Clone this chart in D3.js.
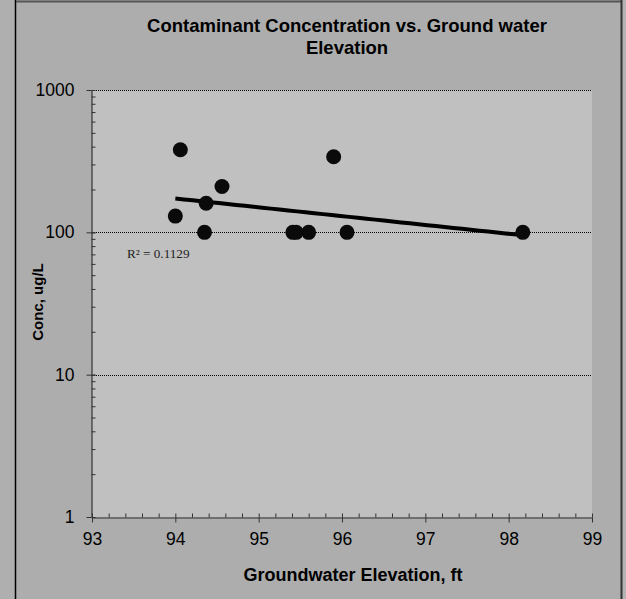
<!DOCTYPE html>
<html>
<head>
<meta charset="utf-8">
<script src="https://cdn.jsdelivr.net/npm/d3@7"></script>
<style>
  html, body { margin: 0; padding: 0; background: #adadad; }
  svg { display: block; }
  .tick text { font-family: "Liberation Sans", Arial, sans-serif; }
</style>
</head>
<body>
<svg id="chart" width="626" height="599"></svg>
<script>
// Groundwater elevation (ft) and measured concentration (ug/L) per sample
const elevation = [94.00, 94.06, 94.35, 94.37, 94.56, 95.41, 95.45, 95.60, 95.90, 96.06, 98.17];
const conc      = [130,   380,   100,   160,   210,   100,   100,   100,   340,   100,   100];

const xMajorTicks = [93, 94, 95, 96, 97, 98, 99];
const yMajorTicks = [1, 10, 100, 1000];
const rSquaredLabel = "R\u00B2 = 0.1129";
const titleLines = ["Contaminant Concentration vs. Ground water", "Elevation"];
const xTitle = "Groundwater Elevation, ft";
const yTitle = "Conc, ug/L";

const W = 626, H = 599;
const plot = { left: 92, right: 592, top: 90, bottom: 517 };

const svg = d3.select("#chart");

// frame
svg.append("rect").attr("x", 0).attr("y", 0).attr("width", W).attr("height", H).attr("fill", "#adadad");
svg.append("rect").attr("x", 0).attr("y", 0).attr("width", 15).attr("height", H).attr("fill", "#afafaf");
svg.append("rect").attr("x", 622).attr("y", 0).attr("width", 4).attr("height", H).attr("fill", "#b3b3b3");
svg.append("line").attr("x1", 15.5).attr("x2", 15.5).attr("y1", 0).attr("y2", H)
  .attr("stroke", "#000").attr("stroke-width", 1.5);
svg.append("line").attr("x1", 16).attr("x2", 622).attr("y1", 1.5).attr("y2", 1.5)
  .attr("stroke", "#555").attr("stroke-width", 2);
svg.append("line").attr("x1", 621.5).attr("x2", 621.5).attr("y1", 0).attr("y2", H)
  .attr("stroke", "#333").attr("stroke-width", 2);

const x = d3.scaleLinear().domain([93, 99]).range([plot.left, plot.right]);
const y = d3.scaleLog().domain([1, 1000]).range([plot.bottom, plot.top]);

// plot area
svg.append("rect")
  .attr("x", plot.left).attr("y", plot.top)
  .attr("width", plot.right - plot.left).attr("height", plot.bottom - plot.top)
  .attr("fill", "#c0c0c0");

// dotted major gridlines
svg.append("g").selectAll("line")
  .data(yMajorTicks.filter(d => d > 1))
  .join("line")
  .attr("x1", plot.left).attr("x2", plot.right)
  .attr("y1", d => Math.round(y(d)) + 0.5).attr("y2", d => Math.round(y(d)) + 0.5)
  .attr("stroke", "#000").attr("stroke-width", 1).attr("stroke-dasharray", "1,1");

// minor tick values
const xMinor = d3.range(93, 99.0001, 0.2).map(v => +v.toFixed(1));
const yMinor = [];
[1, 10, 100].forEach(dec => { for (let k = 1; k <= 10; k++) yMinor.push(dec * k); });

const axisColor = "#333";

// x axis
const gx = svg.append("g").attr("transform", `translate(0,${plot.bottom + 0.5})`)
  .call(d3.axisBottom(x).tickValues(xMajorTicks).tickSizeInner(5).tickSizeOuter(0).tickPadding(10)
    .tickFormat(d3.format("d")));
gx.select(".domain").attr("stroke", axisColor).attr("stroke-width", 1.2);
gx.selectAll(".tick line").attr("stroke", axisColor);
gx.selectAll(".tick text").attr("font-size", 17.5).attr("fill", "#000");

const gxm = svg.append("g").attr("transform", `translate(0,${plot.bottom + 0.5})`)
  .call(d3.axisTop(x).tickValues(xMinor).tickSize(4).tickFormat(""));
gxm.select(".domain").remove();
gxm.selectAll(".tick line").attr("stroke", axisColor);

// y axis
const gy = svg.append("g").attr("transform", `translate(${plot.left - 0.5},0)`)
  .call(d3.axisLeft(y).tickValues(yMajorTicks).tickSizeInner(5).tickSizeOuter(0).tickPadding(12)
    .tickFormat(d3.format("d")));
gy.select(".domain").attr("stroke", axisColor).attr("stroke-width", 1.2);
gy.selectAll(".tick line").attr("stroke", axisColor);
gy.selectAll(".tick text").attr("font-size", 17.5).attr("fill", "#000");

const gym = svg.append("g").attr("transform", `translate(${plot.left - 0.5},0)`)
  .call(d3.axisRight(y).tickValues(yMinor).tickSize(4).tickFormat(""));
gym.select(".domain").remove();
gym.selectAll(".tick line").attr("stroke", axisColor);

// exponential trendline: least squares on log10(conc)
const pts = elevation.map((e, i) => ({ x: e, ly: Math.log10(conc[i]) }));
const mx = d3.mean(pts, p => p.x), my = d3.mean(pts, p => p.ly);
const slope = d3.sum(pts, p => (p.x - mx) * (p.ly - my)) / d3.sum(pts, p => (p.x - mx) ** 2);
const intercept = my - slope * mx;
const [xMin, xMax] = d3.extent(elevation);
const trend = d3.range(0, 41).map(i => {
  const xv = xMin + (xMax - xMin) * i / 40;
  return [xv, Math.pow(10, intercept + slope * xv)];
});
svg.append("path")
  .datum(trend)
  .attr("d", d3.line().x(d => x(d[0])).y(d => y(d[1])))
  .attr("fill", "none").attr("stroke", "#000").attr("stroke-width", 4);

// sample points
svg.append("g").selectAll("circle")
  .data(elevation.map((e, i) => [e, conc[i]]))
  .join("circle")
  .attr("cx", d => x(d[0])).attr("cy", d => y(d[1]))
  .attr("r", 7.5).attr("fill", "#0a0a0a");

// R² annotation
svg.append("text")
  .attr("x", 127).attr("y", 258)
  .attr("font-family", "'Liberation Serif', 'Times New Roman', serif")
  .attr("font-size", 13.2).attr("fill", "#222")
  .text(rSquaredLabel);

// titles
const title = svg.append("text")
  .attr("text-anchor", "middle")
  .attr("font-family", "'Liberation Sans', Arial, sans-serif")
  .attr("font-weight", "bold").attr("font-size", 18.5).attr("fill", "#000");
titleLines.forEach((t, i) => {
  title.append("tspan").attr("x", 347).attr("y", 31.5 + i * 22).text(t);
});

svg.append("text")
  .attr("x", 353).attr("y", 581)
  .attr("text-anchor", "middle")
  .attr("font-family", "'Liberation Sans', Arial, sans-serif")
  .attr("font-weight", "bold").attr("font-size", 18).attr("fill", "#000")
  .text(xTitle);

svg.append("text")
  .attr("transform", "translate(43,302) rotate(-90)")
  .attr("text-anchor", "middle")
  .attr("font-family", "'Liberation Sans', Arial, sans-serif")
  .attr("font-weight", "bold").attr("font-size", 15).attr("fill", "#000")
  .text(yTitle);
</script>
</body>
</html>
